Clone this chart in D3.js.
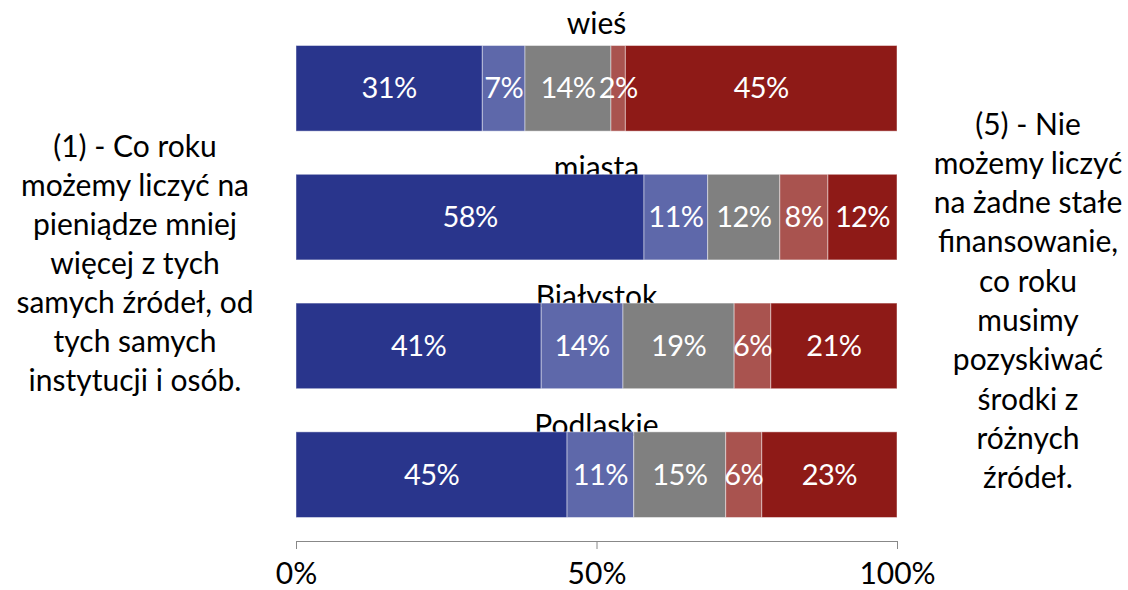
<!DOCTYPE html>
<html><head><meta charset="utf-8">
<script src="https://cdn.jsdelivr.net/npm/d3@7"></script>
<style>body{margin:0;background:#fff}svg{display:block}text{font-family:Lato,"Open Sans",sans-serif}</style>
</head><body><svg id="c" width="1128" height="590"></svg>
<script>
const categories = ["wieś", "miasta", "Białystok", "Podlaskie"];
const seriesNames = ["1", "2", "3", "4", "5"];
const seriesColors = ["#29358C", "#5E68AA", "#808080", "#A9534F", "#8E1A17"];
const wiesValues = [31.0, 7.1, 14.3, 2.4, 45.2];
const miastaValues = [57.9, 10.6, 12.0, 8.0, 11.5];
const bialystokValues = [40.8, 13.6, 18.5, 6.1, 21.0];
const podlaskieValues = [45.1, 11.1, 15.3, 6.0, 22.5];
const tickValues = [0, 50, 100];
const leftNote = ["(1) - Co roku", "możemy liczyć na", "pieniądze mniej", "więcej z tych", "samych źródeł, od", "tych samych", "instytucji i osób."];
const rightNote = ["(5) - Nie", "możemy liczyć", "na żadne stałe", "finansowanie,", "co roku", "musimy", "pozyskiwać", "środki z", "różnych", "źródeł."];

const allValues = [wiesValues, miastaValues, bialystokValues, podlaskieValues];
const svg = d3.select("#c");
const x = d3.scaleLinear().domain([0, 100]).range([296, 897]);
const y = d3.scaleBand().domain(categories).range([3, 560]).paddingInner(0.335).paddingOuter(0.33);
const FS = 30;

// category labels (behind bars)
svg.append("g").selectAll("text").data(categories).join("text")
  .attr("x", x(50)).attr("y", (d, i) => i === 0 ? 34 : y(d) + 4)
  .attr("text-anchor", "middle").attr("font-size", FS).attr("fill", "#000").text(d => d);

categories.forEach((c, i) => {
  const vals = allValues[i];
  let acc = 0;
  const segs = vals.map((v, j) => { const s = {x0: acc, x1: acc + v, v, j}; acc += v; return s; });
  const g = svg.append("g");
  g.selectAll("rect").data(segs).join("rect")
    .attr("x", d => x(d.x0)).attr("width", d => x(d.x1) - x(d.x0))
    .attr("y", y(c)).attr("height", y.bandwidth())
    .attr("fill", d => seriesColors[d.j])
    .attr("stroke", "rgba(255,255,255,0.45)").attr("stroke-width", 1);
  g.selectAll("text").data(segs).join("text")
    .attr("x", d => (x(d.x0) + x(d.x1)) / 2).attr("y", y(c) + y.bandwidth() / 2)
    .attr("dy", "0.35em").attr("text-anchor", "middle").attr("font-size", 29)
    .attr("letter-spacing", "-0.6px").attr("fill", "#fff")
    .text(d => Math.round(d.v) + "%");
});

// axis
const ax = svg.append("g").attr("transform", "translate(0,541)")
  .call(d3.axisBottom(x).tickValues(tickValues).tickSize(8).tickPadding(14).tickFormat(d => d + "%"));
ax.select(".domain").attr("stroke", "#888").attr("d", "M296,0.5H897");
ax.selectAll(".tick line").attr("stroke", "#888").attr("y1", 0).attr("y2", 8);
ax.selectAll(".tick text").attr("font-size", FS).attr("fill", "#000").attr("font-family", "Lato,'Open Sans',sans-serif");

// notes
svg.append("g").selectAll("text").data(leftNote).join("text")
  .attr("x", 135).attr("y", (d, i) => 146 + i * 39).attr("dy", "0.35em")
  .attr("text-anchor", "middle").attr("font-size", FS).attr("fill", "#000").text(d => d);
svg.append("g").selectAll("text").data(rightNote).join("text")
  .attr("x", 1028).attr("y", (d, i) => 124 + i * 39.3).attr("dy", "0.35em")
  .attr("text-anchor", "middle").attr("font-size", FS).attr("fill", "#000").text(d => d);
</script></body></html>
